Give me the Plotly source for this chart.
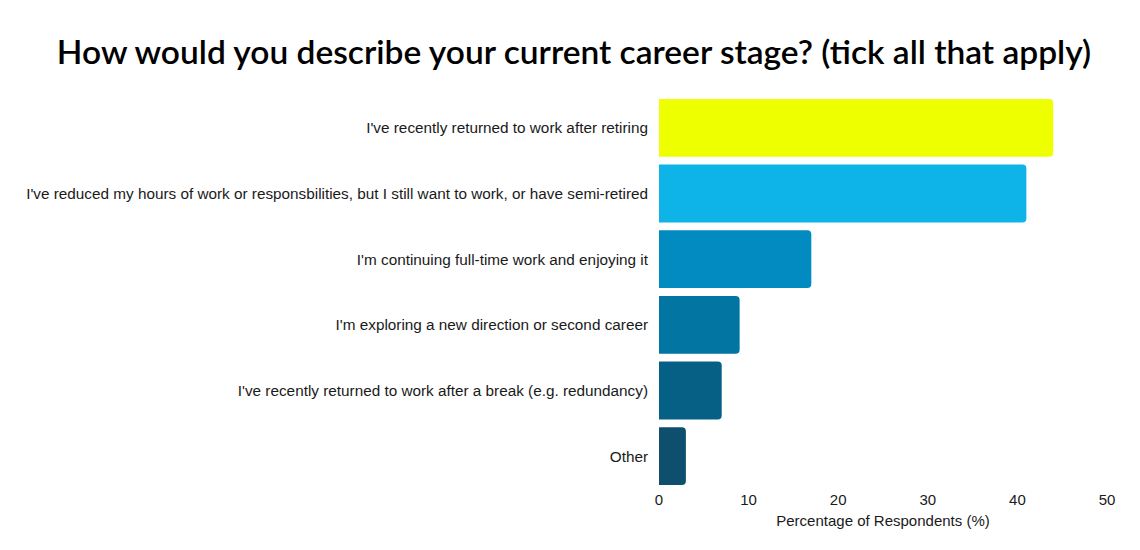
import plotly.graph_objects as go

categories = [
    "I've recently returned to work after retiring",
    "I've reduced my hours of work or responsbilities, but I still want to work, or have semi-retired",
    "I'm continuing full-time work and enjoying it",
    "I'm exploring a new direction or second career",
    "I've recently returned to work after a break (e.g. redundancy)",
    "Other",
]
percentages = [44, 41, 17, 9, 7, 3]
bar_colors = ["#EEFF00", "#0EB4E8", "#018BC0", "#0275A3", "#066085", "#0D4F6D"]

fig = go.Figure(
    go.Bar(
        x=percentages,
        y=categories,
        orientation="h",
        marker=dict(color=bar_colors, line=dict(width=0)),
        hovertemplate="%{y}: %{x}%<extra></extra>",
    )
)

# page body has an 8px margin, so the figure is a bit smaller than the window
fig.update_layout(
    width=1132,
    height=542,
    paper_bgcolor="white",
    plot_bgcolor="white",
    barcornerradius=4,
    bargap=0.12,
    showlegend=False,
    margin=dict(l=651, r=33, t=87, b=61),
    title=dict(
        text="How would you describe your current career stage? (tick all that apply)",
        x=0.5,
        xanchor="center",
        y=0.919,
        yanchor="middle",
        font=dict(family="Lato", size=33.5, color="black", weight=600),
    ),
    font=dict(family="Liberation Sans, Arial", size=15, color="#1a1a1a"),
)

fig.update_xaxes(
    range=[0, 50],
    dtick=10,
    showgrid=False,
    zeroline=False,
    showline=False,
    ticks="",
    tickfont=dict(size=15, color="#1a1a1a"),
    title=dict(text="Percentage of Respondents (%)", font=dict(size=15, color="#1a1a1a"), standoff=8),
)
fig.update_yaxes(
    autorange="reversed",
    showgrid=False,
    showline=False,
    ticks="",
    ticklabelstandoff=10,
    tickfont=dict(size=15.3, color="#1a1a1a"),
)

fig.write_html("out.html")
